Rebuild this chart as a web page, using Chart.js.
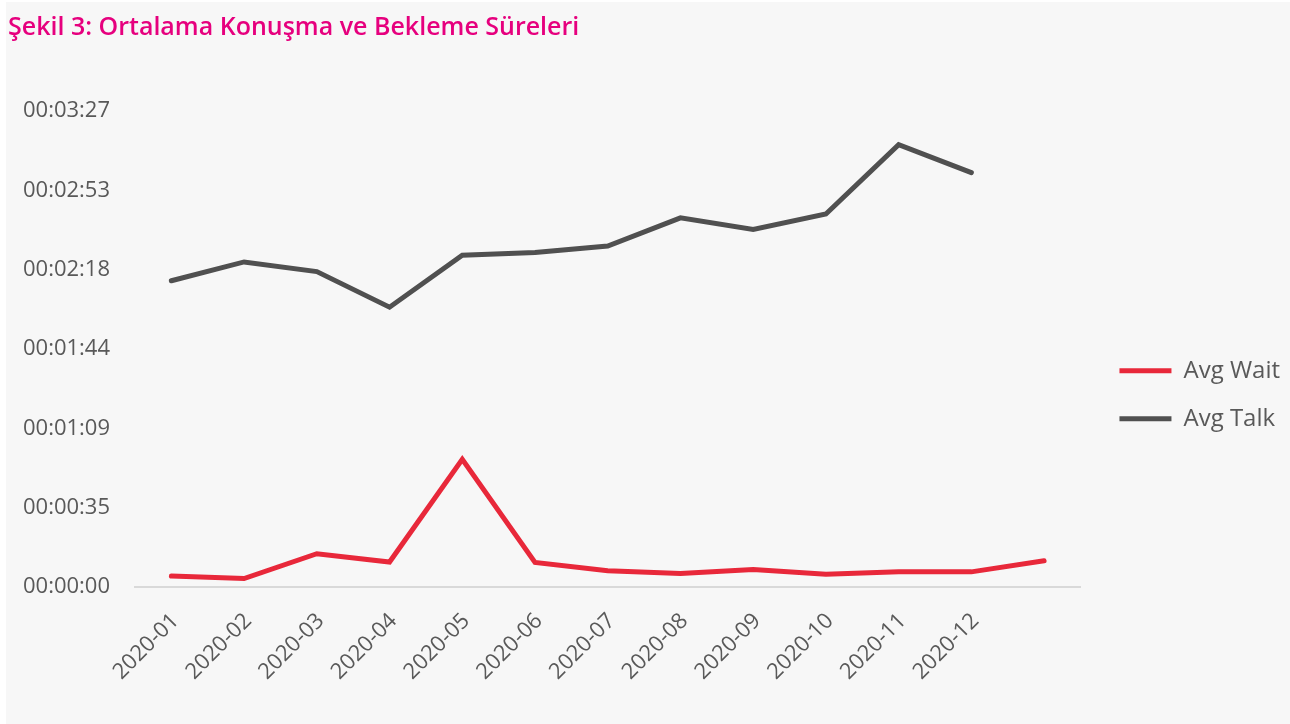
<!DOCTYPE html>
<html>
<head>
<meta charset="utf-8">
<script src="https://cdn.jsdelivr.net/npm/chart.js@4"></script>
<style>
  body { margin: 0; background: #ffffff; }
  #wrap { position: absolute; left: 6px; top: 2px; width: 1284px; height: 722px; background: #f7f7f7; }
</style>
</head>
<body>
<div id="wrap"><canvas id="chart"></canvas></div>
<script>
// months (last slot has no label, only Avg Wait has a value there)
const months = ["2020-01", "2020-02", "2020-03", "2020-04", "2020-05", "2020-06",
  "2020-07", "2020-08", "2020-09", "2020-10", "2020-11", "2020-12", ""];
// values in seconds
const avgWait = [4.8, 3.7, 14.5, 10.9, 55.6, 10.7, 7.1, 5.9, 7.6, 5.6, 6.6, 6.6, 11.4];
const avgTalk = [133.4, 141.6, 137.4, 121.9, 144.5, 145.7, 148.5, 160.8, 155.8, 162.5, 192.7, 180.5, null];
// y ticks (Excel day fractions 0.0004 step, in seconds)
const yTicks = [0, 34.56, 69.12, 103.68, 138.24, 172.8, 207.36];

const font = "'Open Sans', 'Noto Sans', sans-serif";
const textColor = "#595959";

function fmtTime(sec) {
  let s = Math.round(sec);
  const h = Math.floor(s / 3600);
  const m = Math.floor((s % 3600) / 60);
  s = s % 60;
  const p = (n) => String(n).padStart(2, "0");
  return p(h) + ":" + p(m) + ":" + p(s);
}

const ctx = document.getElementById("chart");
new Chart(ctx, {
  type: "line",
  data: {
    labels: months,
    datasets: [
      {
        label: "Avg Wait",
        data: avgWait,
        borderColor: "#e8283a",
        backgroundColor: "#e8283a",
        borderWidth: 5,
        borderCapStyle: "round",
        pointRadius: 0,
        tension: 0,
      },
      {
        label: "Avg Talk",
        data: avgTalk,
        borderColor: "#505050",
        backgroundColor: "#505050",
        borderWidth: 5,
        borderCapStyle: "round",
        pointRadius: 0,
        tension: 0,
      },
    ],
  },
  options: {
    responsive: true,
    maintainAspectRatio: false,
    animation: false,
    layout: { padding: { left: 2, right: 0, top: 0, bottom: 0 } },
    plugins: {
      tooltip: { enabled: false },
      title: {
        display: true,
        text: "Şekil 3: Ortalama Konuşma ve Bekleme Süreleri",
        align: "start",
        color: "#e6007e",
        font: { family: font, size: 25, weight: 600 },
        padding: { top: 11, bottom: 68 },
      },
      legend: {
        position: "right",
        align: "center",
        // empty title only pushes the items down
        title: { display: true, text: "", font: { size: 12 }, padding: { top: 49, bottom: 0 } },
        labels: {
          usePointStyle: true,
          pointStyle: "line",
          pointStyleWidth: 52,
          padding: 24,
          color: textColor,
          font: { family: font, size: 24 },
        },
      },
    },
    scales: {
      x: {
        offset: true,
        grid: { display: false, drawTicks: false, offset: true },
        border: { display: true, color: "#d9d9d9", width: 2 },
        ticks: {
          color: textColor,
          font: { family: font, size: 22 },
          minRotation: 45,
          maxRotation: 45,
          padding: 21,
          labelOffset: 4,
          autoSkip: false,
        },
        afterFit: (s) => { s.height = 137; },
      },
      y: {
        min: 0,
        max: 207.36,
        grid: { display: false, drawTicks: false },
        border: { display: false },
        afterBuildTicks: (s) => { s.ticks = yTicks.map((v) => ({ value: v })); },
        ticks: {
          color: textColor,
          font: { family: font, size: 22 },
          padding: 25,
          callback: (v) => fmtTime(v),
        },
        afterFit: (s) => { s.width = 127; },
      },
      // empty spacer between plot and legend
      gap: {
        position: "right",
        grid: { display: false, drawTicks: false },
        border: { display: false },
        ticks: { display: false },
        afterFit: (s) => { s.width = 15; },
      },
    },
  },
});
</script>
</body>
</html>
